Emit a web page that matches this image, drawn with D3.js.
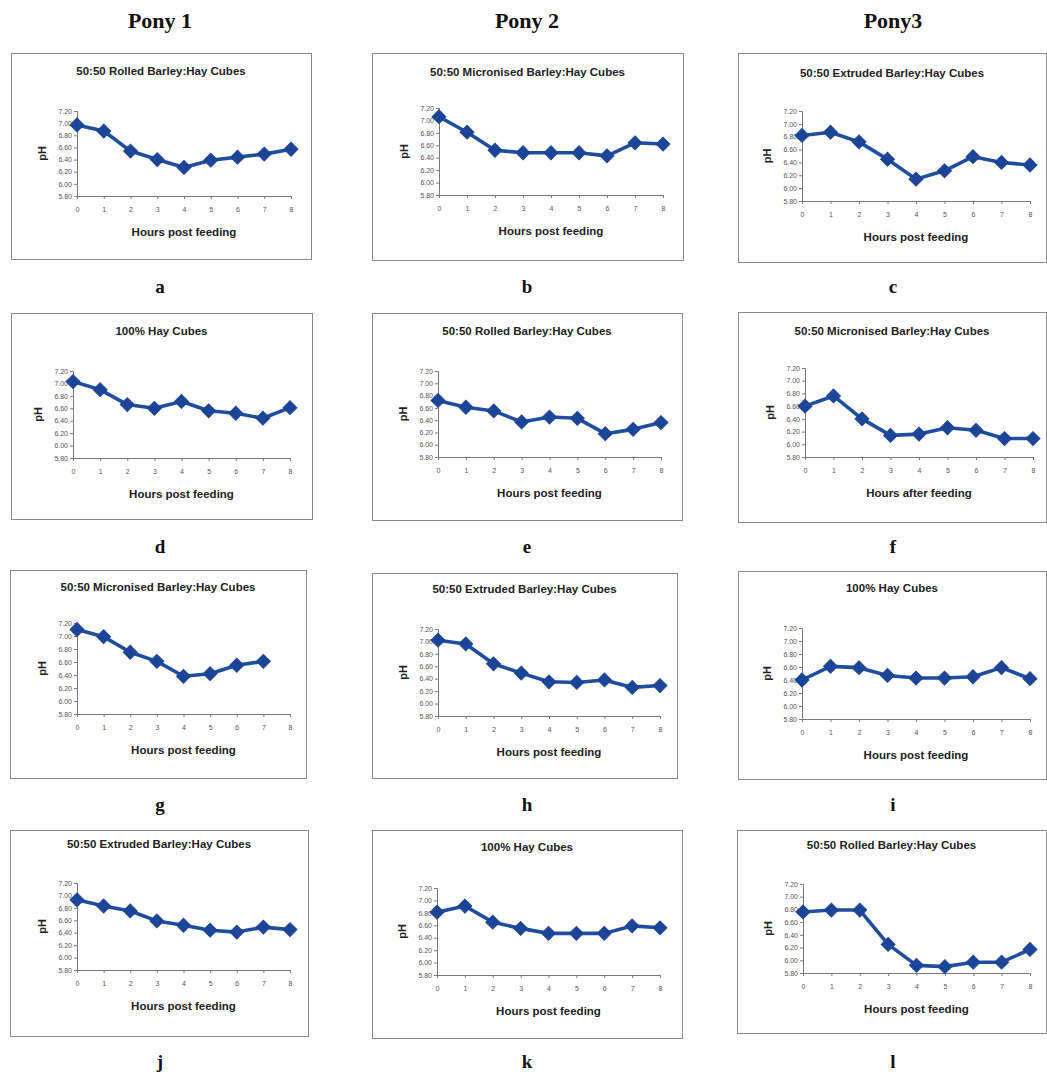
<!DOCTYPE html>
<html>
<head>
<meta charset="utf-8">
<script src="https://cdn.jsdelivr.net/npm/d3@7"></script>
<style>
  html, body { margin: 0; padding: 0; background: #fff; }
  svg { display: block; }
</style>
</head>
<body>
<svg id="fig" width="1047" height="1074"></svg>
<script>
// Caecal pH after feeding, three ponies x four diets
const ponies = ["Pony 1", "Pony 2", "Pony3"];
const hours = [0, 1, 2, 3, 4, 5, 6, 7, 8];
const yTicks = [5.8, 6.0, 6.2, 6.4, 6.6, 6.8, 7.0, 7.2];
const panelLetters = ["a", "b", "c", "d", "e", "f", "g", "h", "i", "j", "k", "l"];
const panelTitles = [
  "50:50 Rolled Barley:Hay Cubes", "50:50 Micronised Barley:Hay Cubes", "50:50 Extruded Barley:Hay Cubes",
  "100% Hay Cubes", "50:50 Rolled Barley:Hay Cubes", "50:50 Micronised Barley:Hay Cubes",
  "50:50 Micronised Barley:Hay Cubes", "50:50 Extruded Barley:Hay Cubes", "100% Hay Cubes",
  "50:50 Extruded Barley:Hay Cubes", "100% Hay Cubes", "50:50 Rolled Barley:Hay Cubes"
];
const xTitles = [
  "Hours post feeding", "Hours post feeding", "Hours post feeding",
  "Hours post feeding", "Hours post feeding", "Hours after feeding",
  "Hours post feeding", "Hours post feeding", "Hours post feeding",
  "Hours post feeding", "Hours post feeding", "Hours post feeding"
];

// pH readings per hour (panel g has no 8 h sample)
const phA = [6.97, 6.87, 6.54, 6.40, 6.27, 6.39, 6.44, 6.49, 6.57];
const phB = [7.06, 6.81, 6.52, 6.48, 6.48, 6.48, 6.43, 6.64, 6.62];
const phC = [6.82, 6.87, 6.72, 6.45, 6.14, 6.27, 6.49, 6.40, 6.36];
const phD = [7.03, 6.90, 6.66, 6.60, 6.71, 6.56, 6.52, 6.44, 6.61];
const phE = [6.72, 6.61, 6.55, 6.37, 6.45, 6.43, 6.18, 6.25, 6.36];
const phF = [6.60, 6.76, 6.40, 6.14, 6.16, 6.26, 6.22, 6.09, 6.09];
const phG = [7.10, 6.99, 6.75, 6.61, 6.38, 6.42, 6.55, 6.61];
const phH = [7.02, 6.96, 6.64, 6.49, 6.35, 6.34, 6.38, 6.26, 6.29];
const phI = [6.40, 6.61, 6.59, 6.47, 6.43, 6.43, 6.45, 6.59, 6.42];
const phJ = [6.93, 6.83, 6.75, 6.59, 6.52, 6.44, 6.41, 6.49, 6.45];
const phK = [6.81, 6.91, 6.65, 6.55, 6.47, 6.47, 6.47, 6.59, 6.56];
const phL = [6.76, 6.79, 6.79, 6.25, 5.92, 5.90, 5.97, 5.97, 6.17];
const series = [phA, phB, phC, phD, phE, phF, phG, phH, phI, phJ, phK, phL];

// Layout: frame [x0, y0, x1, y1] and plot area [xLeft, xRight, yTop, yBottom]
const frames = [
  [11, 53, 311, 259], [372, 53, 683, 260], [738, 53, 1046, 262],
  [11, 313, 312, 519], [372, 313, 682, 520], [738, 312, 1046, 522],
  [10, 570, 306, 778], [372, 573, 677, 778], [738, 571, 1046, 779],
  [10, 830, 308, 1036], [372, 830, 682, 1038], [737, 830, 1046, 1033]
];
const plots = [
  [77, 291, 111, 196], [439, 663, 108, 195], [802, 1030, 111, 201],
  [73, 290, 371, 458], [438, 661, 371, 457], [805, 1033, 368, 457],
  [77, 290, 623, 714], [438, 660, 629, 716], [802, 1030, 628, 719],
  [77, 290, 883, 970], [437, 660, 888, 975], [803, 1030, 884, 973]
];
const titleY = [75, 76, 77, 335, 335, 335, 591, 593, 592, 848, 851, 849];
const colCenters = [160, 527, 893];
const letterY = [293, 553, 811, 1068];

const svg = d3.select("#fig");
const lineColor = "#1f4e9f";
const markColor = "#1d4597";
const sans = "'Liberation Sans', Arial, sans-serif";
const serif = "'Liberation Serif', 'Times New Roman', serif";

// Column headers
svg.selectAll("text.pony")
  .data(ponies)
  .join("text")
  .attr("class", "pony")
  .attr("x", (d, i) => colCenters[i])
  .attr("y", 28)
  .attr("text-anchor", "middle")
  .attr("font-family", serif)
  .attr("font-weight", "bold")
  .attr("font-size", 22)
  .attr("fill", "#111")
  .text(d => d);

series.forEach((vals, i) => {
  const fr = frames[i];
  const pl = plots[i];
  const g = svg.append("g");

  // Chart frame
  g.append("rect")
    .attr("x", fr[0] + 0.5).attr("y", fr[1] + 0.5)
    .attr("width", fr[2] - fr[0]).attr("height", fr[3] - fr[1])
    .attr("fill", "none")
    .attr("stroke", "#8a8a8a")
    .attr("stroke-width", 1);

  const x = d3.scaleLinear().domain([0, 8]).range([pl[0], pl[1]]);
  const y = d3.scaleLinear().domain([5.8, 7.2]).range([pl[3], pl[2]]);

  // Title
  g.append("text")
    .attr("x", (fr[0] + fr[2]) / 2)
    .attr("y", titleY[i])
    .attr("text-anchor", "middle")
    .attr("font-family", sans)
    .attr("font-weight", "bold")
    .attr("font-size", 11.5)
    .attr("fill", "#222")
    .text(panelTitles[i]);

  // Y axis
  const yAxis = g.append("g")
    .attr("transform", `translate(${pl[0]},0)`)
    .call(d3.axisLeft(y).tickValues(yTicks).tickFormat(d3.format(".2f")).tickSize(3).tickPadding(2));
  // X axis
  const xAxis = g.append("g")
    .attr("transform", `translate(0,${pl[3]})`)
    .call(d3.axisBottom(x).tickValues(hours).tickFormat(d3.format("d")).tickSize(3).tickPadding(8));

  [yAxis, xAxis].forEach(ax => {
    ax.select(".domain").attr("stroke", "#7a7a7a");
    ax.selectAll(".tick line").attr("stroke", "#7a7a7a");
    ax.selectAll(".tick text")
      .attr("font-family", sans)
      .attr("font-size", 7)
      .attr("fill", "#555");
  });

  // Axis titles
  g.append("text")
    .attr("x", (pl[0] + pl[1]) / 2)
    .attr("y", pl[3] + 40)
    .attr("text-anchor", "middle")
    .attr("font-family", sans)
    .attr("font-weight", "bold")
    .attr("font-size", 11.5)
    .attr("fill", "#222")
    .text(xTitles[i]);

  g.append("text")
    .attr("transform", `translate(${pl[0] - 31},${(pl[2] + pl[3]) / 2}) rotate(-90)`)
    .attr("text-anchor", "middle")
    .attr("font-family", sans)
    .attr("font-weight", "bold")
    .attr("font-size", 11)
    .attr("fill", "#222")
    .text("pH");

  const pts = vals.map((v, k) => [hours[k], v]);

  g.append("path")
    .datum(pts)
    .attr("fill", "none")
    .attr("stroke", lineColor)
    .attr("stroke-width", 3.6)
    .attr("stroke-linejoin", "round")
    .attr("d", d3.line().x(d => x(d[0])).y(d => y(d[1])));

  g.selectAll("path.mark")
    .data(pts)
    .join("path")
    .attr("class", "mark")
    .attr("d", d3.symbol().type(d3.symbolSquare).size(96))
    .attr("transform", d => `translate(${x(d[0])},${y(d[1])}) rotate(45)`)
    .attr("fill", markColor)
    .attr("stroke", markColor)
    .attr("stroke-width", 1);

  // Panel letter
  svg.append("text")
    .attr("x", colCenters[i % 3])
    .attr("y", letterY[Math.floor(i / 3)])
    .attr("text-anchor", "middle")
    .attr("font-family", serif)
    .attr("font-weight", "bold")
    .attr("font-size", 19)
    .attr("fill", "#111")
    .text(panelLetters[i]);
});
</script>
</body>
</html>
